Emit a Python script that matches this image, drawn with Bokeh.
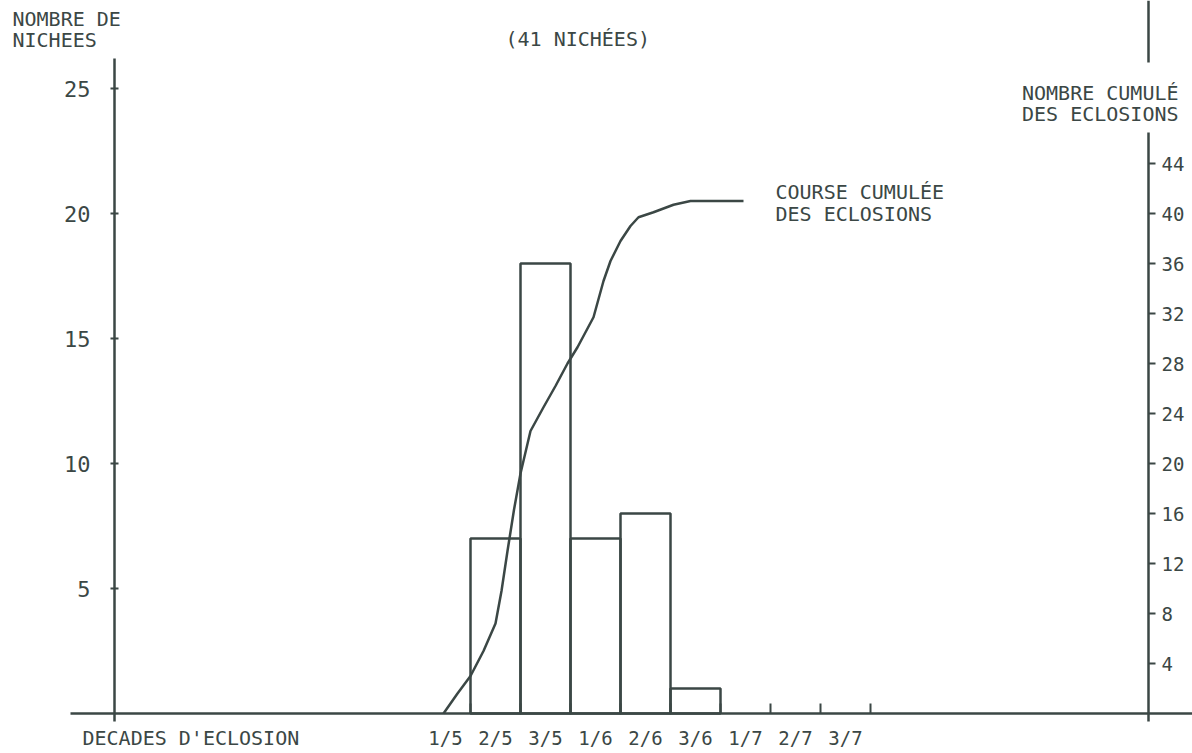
from bokeh.plotting import figure
from bokeh.models import Range1d, LinearAxis, FixedTicker, Label, BoxAnnotation
from bokeh.embed import file_html
from bokeh.resources import INLINE

# ---- data ----
decades = ["1/5", "2/5", "3/5", "1/6", "2/6", "3/6", "1/7", "2/7", "3/7"]
nests = [0, 7, 18, 7, 8, 1, 0, 0, 0]          # nombre de nichées par décade (41)

# cumulated hatching curve (x in decade units, y = cumulative count)
cum_x = [-0.04, 0.24, 0.5, 0.76, 1.0, 1.12, 1.24, 1.37, 1.5, 1.7, 1.96, 2.2,
         2.44, 2.64, 2.96, 3.16, 3.3, 3.5, 3.7, 3.86, 4.16, 4.56, 4.9, 5.96]
cum_y = [0, 1.6, 3.0, 5.0, 7.2, 9.8, 13.0, 16.3, 19.2, 22.6, 24.5, 26.2,
         28.0, 29.3, 31.7, 34.6, 36.2, 37.8, 39.0, 39.7, 40.1, 40.7, 41.0, 41.0]

left_ticks = [5, 10, 15, 20, 25]
right_ticks = [4, 8, 12, 16, 20, 24, 28, 32, 36, 40, 44]

FONT = "DejaVu Sans Mono"
INK = "#3b4745"

idx = list(range(len(decades)))
edges = [i + 0.5 for i in idx]

W, H = 1192, 753
# frame covers the whole figure; axes are pinned with fixed_location
p = figure(width=W, height=H, output_backend="svg", toolbar_location=None,
           title=None, x_range=Range1d(-8.9, 14.94), y_range=Range1d(-1.6, 28.52),
           min_border_left=0, min_border_right=0, min_border_top=0,
           min_border_bottom=0)
p.outline_line_color = None
p.grid.visible = False
p.background_fill_color = "white"
p.border_fill_color = "white"

# x axis
xa = p.xaxis[0]
xa.fixed_location = 0
xa.bounds = (-7.5, 14.94)
xa.ticker = FixedTicker(ticks=idx, minor_ticks=edges)
xa.major_label_overrides = {i: lab for i, lab in zip(idx, decades)}
xa.major_tick_in = 0
xa.major_tick_out = 0
xa.minor_tick_in = 10
xa.minor_tick_out = 0
xa.minor_tick_line_color = INK
xa.minor_tick_line_width = 2
xa.axis_line_color = INK
xa.axis_line_width = 2.5
xa.major_label_standoff = 13
xa.major_label_text_font = FONT
xa.major_label_text_font_size = "19px"
xa.major_label_text_color = INK

# left axis
ya = p.yaxis[0]
ya.fixed_location = -6.62
ya.bounds = (-0.3, 26.2)
ya.ticker = FixedTicker(ticks=left_ticks)
ya.major_tick_in = 4
ya.major_tick_out = 4
ya.minor_tick_in = 0
ya.minor_tick_out = 0
ya.major_tick_line_color = INK
ya.major_tick_line_width = 2
ya.axis_line_color = INK
ya.axis_line_width = 2.5
ya.major_label_standoff = 20
ya.major_label_text_font = FONT
ya.major_label_text_font_size = "22px"
ya.major_label_text_color = INK

# right axis (cumulative)
p.extra_y_ranges = {"cum": Range1d(-3.2, 57.04)}
ra = LinearAxis(y_range_name="cum", ticker=FixedTicker(ticks=right_ticks))
ra.fixed_location = 14.06
ra.bounds = (-0.6, 57.04)
ra.major_tick_in = 0
ra.major_tick_out = 7
ra.minor_tick_in = 0
ra.minor_tick_out = 0
ra.major_tick_line_color = INK
ra.major_tick_line_width = 2
ra.axis_line_color = INK
ra.axis_line_width = 2.5
ra.major_label_standoff = 6
ra.major_label_text_font = FONT
ra.major_label_text_font_size = "19px"
ra.major_label_text_color = INK
p.add_layout(ra, "right")

# gap in the right axis line where its title sits
p.add_layout(BoxAnnotation(left=13.9, right=14.22, bottom=23.24, top=26.04,
                           fill_color="white", fill_alpha=1.0, line_color=None))

# bars
bx = [i for i, n in zip(idx, nests) if n > 0]
bt = [n for n in nests if n > 0]
p.vbar(x=bx, top=bt, bottom=0, width=1, fill_color=None,
       line_color=INK, line_width=2.5)

# cumulative curve
p.line(cum_x, cum_y, y_range_name="cum", line_color=INK, line_width=2.5)

# texts (screen units: frame = whole figure, y measured from the bottom)
def add_text(text, x_img, y_img, align="left", size="20px"):
    p.add_layout(Label(x=x_img, y=H - y_img, x_units="screen", y_units="screen",
                       text=text, text_font=FONT, text_font_size=size,
                       text_color=INK, text_align=align, text_baseline="middle"))

add_text("NOMBRE DE", 12, 18)
add_text("NICHEES", 12, 39)
add_text("(41 NICHÉES)", 505, 38)
add_text("NOMBRE CUMULÉ", 1178, 92, align="right")
add_text("DES ECLOSIONS", 1178, 113, align="right")
add_text("COURSE CUMULÉE", 775, 191)
add_text("DES ECLOSIONS", 775, 213)
add_text("DECADES D'ECLOSION", 82, 737)

open("out.html", "w").write(file_html(p, INLINE))
